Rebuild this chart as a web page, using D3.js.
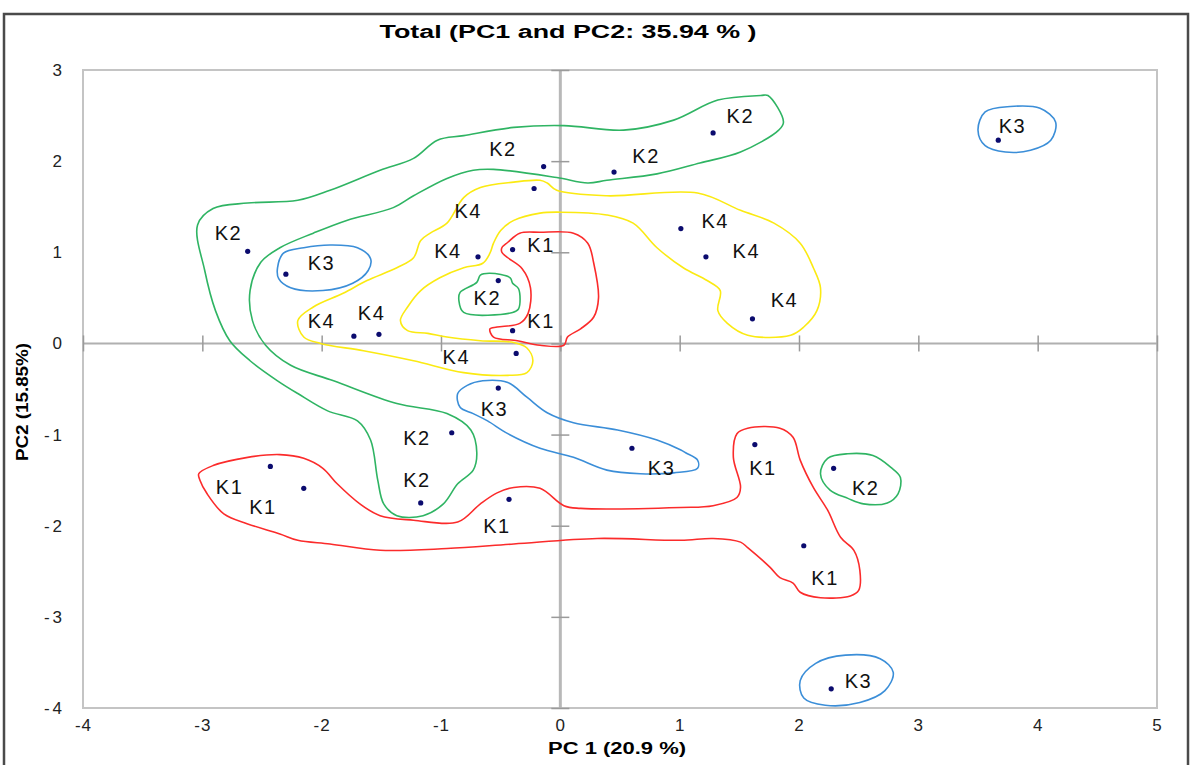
<!DOCTYPE html>
<meta charset="utf-8">
<style>
body { margin: 0; background: #fff; }
text { font-family: "Liberation Sans", Arial, sans-serif; }
.lab { font-size: 20px; fill: #111; letter-spacing: 1.5px; }
.contour { fill: none; stroke-width: 1.6px; }
</style>
<svg width="1192" height="765"></svg>
<script src="https://cdn.jsdelivr.net/npm/d3@7"></script>
<script>
// PCA scores (PC1, PC2)
var pc1 = [-0.40, -0.40, -2.43, -2.15, -0.43, 1.63, 2.04,
           -0.14, -0.22, 0.45, 1.28, -2.62, -0.52, -0.91, -1.17, 2.29,
           3.67, -2.30, -0.52, 0.60, 2.27,
           -0.69, -1.73, -1.52, -0.37, 1.01, 1.22, 1.61];
var pc2 = [1.03, 0.14, -1.35, -1.59, -1.71, -1.11, -2.22,
           1.94, 1.70, 1.88, 2.31, 1.01, 0.69, -0.98, -1.75, -1.37,
           2.23, 0.76, -0.49, -1.15, -3.79,
           0.95, 0.08, 0.10, -0.11, 1.26, 0.95, 0.27];

// group labels as they sit on the chart (text, PC1, PC2)
var labelText = ["K2","K3","K2","K2","K4","K4","K2","K4","K1","K4","K3","K2","K4","K4",
                 "K4","K1","K4","K3","K2","K3","K1","K2","K1","K1","K2","K1","K1","K3"];
var labelX = [1.50, 3.78, -0.49, 0.71, -0.78, 1.29, -2.79, -0.95, -0.17, 1.55, -2.01, -0.62, 1.87, -1.59,
              -2.01, -0.17, -0.88, -0.56, -1.21, 0.84, 1.69, 2.55, -2.78, -2.50, -1.21, -0.54, 2.21, 2.49];
var labelY = [2.50, 2.39, 2.14, 2.06, 1.45, 1.35, 1.21, 1.02, 1.08, 1.02, 0.89, 0.50, 0.48, 0.34,
              0.25, 0.25, -0.15, -0.72, -1.03, -1.36, -1.37, -1.58, -1.57, -1.79, -1.50, -2.00, -2.57, -3.70];

// hand drawn group outlines, in PC units
var greenOuter = [[1.74,2.72],[1.87,2.43],[1.83,2.34],[1.51,2.10],[1.17,1.98],[0.81,1.86],[0.39,1.79],[0.23,1.76],
  [-0.03,1.82],[-0.56,1.91],[-0.73,1.90],[-0.95,1.81],[-1.23,1.62],[-1.40,1.49],[-1.79,1.35],[-2.07,1.21],
  [-2.35,1.05],[-2.51,0.89],[-2.60,0.58],[-2.58,0.25],[-2.47,-0.02],[-2.26,-0.24],[-1.90,-0.41],[-1.37,-0.66],
  [-0.95,-0.77],[-0.75,-0.95],[-0.70,-1.20],[-0.73,-1.39],[-0.86,-1.54],[-0.98,-1.76],[-1.15,-1.89],[-1.37,-1.89],
  [-1.48,-1.76],[-1.53,-1.50],[-1.59,-1.06],[-1.70,-0.85],[-1.95,-0.74],[-2.20,-0.55],[-2.37,-0.41],[-2.60,-0.19],
  [-2.77,0.03],[-2.89,0.36],[-2.98,0.80],[-3.04,1.30],[-2.91,1.48],[-2.62,1.54],[-2.20,1.57],[-1.93,1.68],
  [-1.51,1.90],[-1.23,2.03],[-1.03,2.23],[-0.81,2.28],[-0.39,2.37],[0.03,2.39],[0.53,2.34],[0.95,2.45],
  [1.32,2.67],[1.68,2.72]];
var greenMid = [[-0.84,0.56],[-0.70,0.67],[-0.67,0.75],[-0.59,0.77],[-0.42,0.72],[-0.40,0.66],[-0.35,0.60],
  [-0.35,0.38],[-0.40,0.34],[-0.81,0.34],[-0.85,0.47]];
var greenRight = [[2.18,-1.43],[2.24,-1.26],[2.41,-1.21],[2.62,-1.23],[2.77,-1.36],[2.85,-1.47],[2.83,-1.65],
  [2.74,-1.75],[2.54,-1.76],[2.41,-1.70],[2.26,-1.61]];
var blueTop = [[3.56,2.54],[3.77,2.60],[4.02,2.58],[4.15,2.43],[4.11,2.23],[3.94,2.12],[3.73,2.10],[3.56,2.17],[3.50,2.34]];
var blueLeft = [[-2.37,0.83],[-2.32,0.99],[-2.15,1.05],[-1.93,1.08],[-1.70,1.05],[-1.59,0.93],[-1.61,0.80],
  [-1.74,0.66],[-1.99,0.58],[-2.26,0.61],[-2.36,0.71]];
var blueMid = [[-0.86,-0.55],[-0.78,-0.46],[-0.65,-0.41],[-0.44,-0.43],[-0.28,-0.59],[-0.11,-0.76],[0.11,-0.87],
  [0.48,-0.95],[0.81,-1.06],[1.01,-1.17],[1.05,-1.20],[1.15,-1.28],[1.15,-1.37],[0.95,-1.42],[0.67,-1.43],
  [0.39,-1.39],[0.11,-1.25],[-0.17,-1.15],[-0.44,-0.99],[-0.61,-0.85],[-0.73,-0.77],[-0.84,-0.70]];
var blueBottom = [[2.01,-3.70],[2.14,-3.51],[2.39,-3.42],[2.68,-3.46],[2.79,-3.61],[2.72,-3.81],[2.51,-3.94],
  [2.22,-3.97],[2.04,-3.89]];
var redTop = [[-0.49,1.05],[-0.44,1.11],[-0.34,1.21],[-0.17,1.22],[0.11,1.21],[0.23,1.10],[0.28,0.88],[0.32,0.50],
  [0.28,0.29],[0.17,0.16],[0.06,0.07],[0.03,-0.02],[-0.17,-0.02],[-0.36,0.03],[-0.56,0.07],[-0.59,0.16],
  [-0.53,0.18],[-0.34,0.22],[-0.27,0.33],[-0.25,0.61],[-0.32,0.82],[-0.44,0.94],[-0.49,1.00]];
var redBig = [[-3.03,-1.43],[-2.91,-1.34],[-2.62,-1.25],[-2.35,-1.22],[-2.15,-1.26],[-1.99,-1.37],[-1.87,-1.54],
  [-1.68,-1.76],[-1.51,-1.89],[-1.23,-1.94],[-0.86,-1.96],[-0.67,-1.76],[-0.53,-1.64],[-0.39,-1.58],[-0.17,-1.59],
  [0.03,-1.78],[0.17,-1.81],[1.01,-1.80],[1.28,-1.78],[1.48,-1.69],[1.51,-1.58],[1.45,-1.25],[1.48,-0.99],
  [1.57,-0.93],[1.84,-0.93],[1.95,-1.03],[2.01,-1.28],[2.12,-1.58],[2.24,-1.83],[2.35,-2.13],[2.46,-2.27],
  [2.51,-2.49],[2.50,-2.71],[2.43,-2.77],[2.18,-2.79],[2.01,-2.73],[1.95,-2.63],[1.84,-2.57],[1.76,-2.46],
  [1.57,-2.24],[1.51,-2.18],[1.28,-2.14],[1.01,-2.16],[0.31,-2.14],[-0.39,-2.20],[-0.95,-2.25],[-1.51,-2.27],
  [-1.93,-2.20],[-2.20,-2.16],[-2.35,-2.09],[-2.62,-1.98],[-2.82,-1.87],[-2.96,-1.65],[-3.02,-1.50]];
var yellow = [[-2.20,0.25],[-2.07,0.40],[-1.82,0.55],[-1.62,0.69],[-1.37,0.83],[-1.23,0.94],[-1.17,1.13],
  [-1.09,1.21],[-0.95,1.32],[-0.81,1.60],[-0.67,1.71],[-0.39,1.77],[-0.17,1.79],[-0.11,1.76],[-0.03,1.68],
  [0.39,1.62],[1.15,1.65],[1.51,1.46],[1.79,1.32],[2.01,1.10],[2.12,0.83],[2.18,0.61],[2.15,0.36],[2.04,0.18],
  [1.93,0.09],[1.57,0.09],[1.40,0.22],[1.32,0.36],[1.34,0.58],[1.23,0.69],[1.03,0.83],[0.81,1.05],[0.61,1.32],
  [0.39,1.41],[0,1.44],[-0.17,1.43],[-0.39,1.35],[-0.50,1.24],[-0.56,1.10],[-0.59,0.99],[-0.65,0.88],
  [-0.81,0.83],[-1.01,0.72],[-1.17,0.58],[-1.28,0.40],[-1.34,0.25],[-1.28,0.14],[-1.11,0.11],[-0.95,0.07],
  [-0.67,0.03],[-0.39,0.01],[-0.28,-0.05],[-0.23,-0.19],[-0.28,-0.32],[-0.44,-0.35],[-0.81,-0.32],[-1.23,-0.19],
  [-1.65,-0.08],[-2.01,0],[-2.15,0.07]];

var outlines = [
  {pts: greenOuter, col: "#2fb463"}, {pts: greenMid, col: "#2fb463"}, {pts: greenRight, col: "#2fb463"},
  {pts: yellow, col: "#fbea12"},
  {pts: redTop, col: "#fb2b2b"}, {pts: redBig, col: "#fb2b2b"},
  {pts: blueTop, col: "#3b8ed8"}, {pts: blueLeft, col: "#3b8ed8"}, {pts: blueMid, col: "#3b8ed8"}, {pts: blueBottom, col: "#3b8ed8"}
];

var svg = d3.select("svg");
var x = d3.scaleLinear().domain([-4, 5]).range([83, 1157]),
    y = d3.scaleLinear().domain([-4, 3]).range([708, 70]);

// outer frame of the figure
svg.append("rect").attr("x", 4).attr("y", 14).attr("width", 1184).attr("height", 770)
  .attr("fill", "none").attr("stroke", "#4a4a4a").attr("stroke-width", 2.5);

// plot frame
svg.append("rect").attr("x", x(-4)).attr("y", y(3))
  .attr("width", x(5) - x(-4)).attr("height", y(-4) - y(3))
  .attr("fill", "none").attr("stroke", "#c4c4c4").attr("stroke-width", 2);

// zero lines
svg.append("line").attr("x1", x(-4)).attr("x2", x(5)).attr("y1", y(0)).attr("y2", y(0))
  .attr("stroke", "#b0b0b0").attr("stroke-width", 2);
svg.append("line").attr("x1", x(0)).attr("x2", x(0)).attr("y1", y(3)).attr("y2", y(-4))
  .attr("stroke", "#b8b8b8").attr("stroke-width", 3);

// small cross ticks on the zero lines
svg.append("g").attr("transform", "translate(0," + (y(0) - 8) + ")")
  .call(d3.axisBottom(x).ticks(9).tickSize(16).tickFormat(""))
  .call(function(g) { g.select(".domain").remove(); g.selectAll("line").attr("stroke", "#9a9a9a").attr("stroke-width", 1.5); });
svg.append("g").attr("transform", "translate(" + (x(0) - 9) + ",0)")
  .call(d3.axisRight(y).ticks(7).tickSize(18).tickFormat(""))
  .call(function(g) { g.select(".domain").remove(); g.selectAll("line").attr("stroke", "#9a9a9a").attr("stroke-width", 1.5); });

// tick labels (plain hyphen minus, as in the original)
var fmt = function(d) { return String(d); };
svg.append("g").attr("transform", "translate(" + x(-4) + ",0)")
  .call(d3.axisLeft(y).ticks(7).tickSize(0).tickPadding(18).tickFormat(fmt))
  .call(function(g) {
    g.select(".domain").remove();
    g.attr("font-family", null).attr("font-size", null);
    g.selectAll("text").style("font-size", "17px").style("letter-spacing", "3px").attr("fill", "#222");
  });
svg.append("g").attr("transform", "translate(0," + y(-4) + ")")
  .call(d3.axisBottom(x).ticks(9).tickSize(0).tickPadding(11).tickFormat(fmt))
  .call(function(g) {
    g.select(".domain").remove();
    g.attr("font-family", null).attr("font-size", null);
    g.selectAll("text").style("font-size", "17px").style("letter-spacing", "1px").attr("fill", "#222");
  });

// outlines
var line = d3.line().x(function(d) { return x(d[0]); }).y(function(d) { return y(d[1]); })
  .curve(d3.curveCatmullRomClosed.alpha(0.5));
svg.append("g").selectAll("path").data(outlines).enter().append("path")
  .attr("class", "contour").attr("stroke", function(d) { return d.col; })
  .attr("d", function(d) { return line(d.pts); });

// points
svg.append("g").selectAll("circle").data(pc1).enter().append("circle")
  .attr("cx", function(d) { return x(d); })
  .attr("cy", function(d, i) { return y(pc2[i]); })
  .attr("r", 2.6).attr("fill", "#0b0b6e");

// labels
svg.append("g").selectAll("text").data(labelText).enter().append("text")
  .attr("class", "lab").attr("text-anchor", "middle").attr("dy", "0.36em")
  .attr("x", function(d, i) { return x(labelX[i]) + 1; })
  .attr("y", function(d, i) { return y(labelY[i]); })
  .text(function(d) { return d; });

// titles
svg.append("text").attr("x", 568).attr("y", 38).attr("text-anchor", "middle")
  .attr("font-weight", "bold").attr("font-size", 18)
  .attr("textLength", 377).attr("lengthAdjust", "spacingAndGlyphs")
  .text("Total (PC1 and PC2: 35.94 % )");
svg.append("text").attr("x", 617).attr("y", 754).attr("text-anchor", "middle")
  .attr("font-weight", "bold").attr("font-size", 16)
  .attr("textLength", 138).attr("lengthAdjust", "spacingAndGlyphs")
  .text("PC 1 (20.9 %)");
svg.append("text").attr("transform", "translate(28,402) rotate(-90)").attr("text-anchor", "middle")
  .attr("font-weight", "bold").attr("font-size", 16)
  .attr("textLength", 118).attr("lengthAdjust", "spacingAndGlyphs")
  .text("PC2 (15.85%)");
</script>
